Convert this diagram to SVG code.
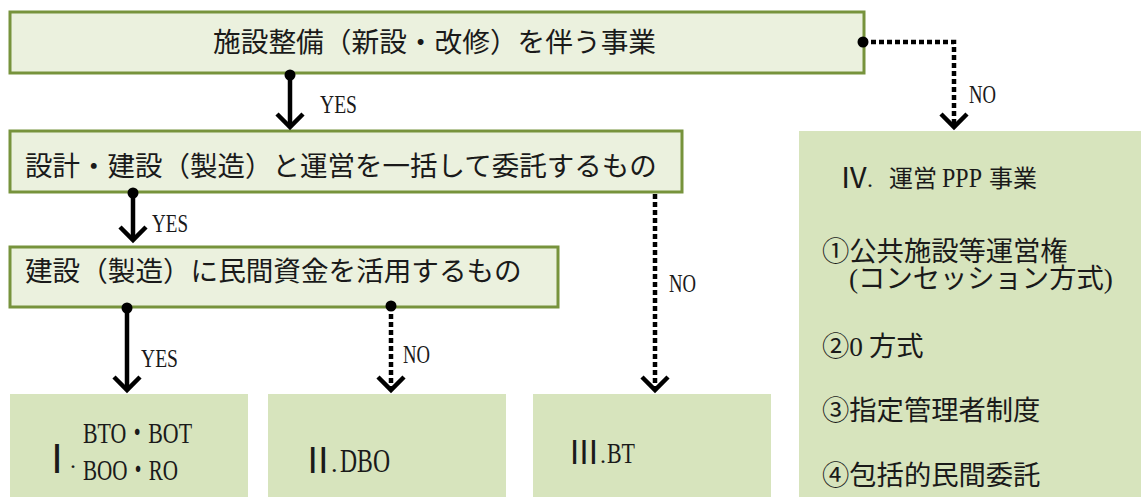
<svg xmlns="http://www.w3.org/2000/svg" width="1141" height="497" viewBox="0 0 1141 497">
<style>
.q{fill:#ebf1de;stroke:#77933c;stroke-width:3}
.r{fill:#d7e4bd;stroke:none}
.t{font-family:'Liberation Serif','Noto Sans CJK JP',serif;fill:#1a1a1a}
.j{font-family:'Noto Sans CJK JP','Liberation Serif',sans-serif;fill:#1a1a1a}
.c{fill:none;stroke:#000;stroke-width:4.5}
.d{fill:none;stroke:#000;stroke-width:4.5;stroke-dasharray:5 3}
.lb{font-family:'Liberation Serif',serif;font-size:26px;fill:#1a1a1a}
</style>
<defs>
<marker id="chev" viewBox="-16 -16 20 32" markerWidth="20" markerHeight="32" refX="-2" refY="0" orient="auto" markerUnits="userSpaceOnUse">
<path d="M-13,-13 L0,0 L-13,13" fill="none" stroke="#000" stroke-width="4.5" stroke-dasharray="none"/>
</marker>
<marker id="dot" viewBox="-7 -7 14 14" markerWidth="14" markerHeight="14" refX="0" refY="0" markerUnits="userSpaceOnUse">
<circle r="5.5" fill="#000"/>
</marker>
</defs>
<g id="n1">
<rect class="q" x="10" y="12" width="854" height="61"/>
<text class="j" x="213" y="52" font-size="27.7">施設整備（新設・改修）を伴う事業</text>
</g>
<g id="n2">
<rect class="q" x="10" y="131" width="672" height="61"/>
<text class="j" x="25" y="176" font-size="27.5">設計・建設（製造）と運営を一括して委託するもの</text>
</g>
<g id="n3">
<rect class="q" x="10" y="247" width="548" height="60"/>
<text class="j" x="25" y="281" font-size="27.6">建設（製造）に民間資金を活用するもの</text>
</g>
<g id="n4">
<rect class="r" x="10" y="394" width="238" height="103"/>
<text class="j" x="37" y="473" font-size="40">Ⅰ<tspan class="t" dx="-7" dy="-5" font-size="24">.</tspan></text>
<text class="t" x="83" y="443" font-size="29" textLength="109" lengthAdjust="spacingAndGlyphs">BTO・BOT</text>
<text class="t" x="83" y="480" font-size="29" textLength="95" lengthAdjust="spacingAndGlyphs">BOO・RO</text>
</g>
<g id="n5">
<rect class="r" x="268" y="394" width="238" height="103"/>
<text class="j" x="300" y="473" font-size="36">Ⅱ<tspan class="t" dx="-5" dy="-1" font-size="26">.</tspan></text>
<text class="t" x="340" y="472" font-size="34" textLength="50" lengthAdjust="spacingAndGlyphs">DBO</text>
</g>
<g id="n6">
<rect class="r" x="533" y="394" width="238" height="103"/>
<text class="j" x="568" y="464" font-size="32">Ⅲ<tspan class="t" dy="-1" font-size="24">.</tspan></text>
<text class="t" x="607" y="463" font-size="29" textLength="28" lengthAdjust="spacingAndGlyphs">BT</text>
</g>
<g id="n7">
<rect class="r" x="799" y="131" width="342" height="366"/>
<text class="j" x="839.5" y="188" font-size="29">Ⅳ<tspan class="t" dx="-1.5" dy="-1" font-size="24">.</tspan></text>
<text class="j" x="889" y="187" font-size="24">運営</text>
<text class="t" x="942" y="187" font-size="28" textLength="40" lengthAdjust="spacingAndGlyphs">PPP</text>
<text class="j" x="989" y="187" font-size="24">事業</text>
<text class="j" x="822" y="261" font-size="27.3">①公共施設等運営権<tspan class="t" x="849" y="288">(</tspan><tspan class="j">コンセッション方式</tspan><tspan class="t">)</tspan></text>
<text class="j" x="822" y="356" font-size="27.3">②<tspan class="t">0</tspan> 方式</text>
<text class="j" x="822" y="420" font-size="27.3">③指定管理者制度</text>
<text class="j" x="822" y="485" font-size="27.3">④包括的民間委託</text>
</g>
<g id="connectors">
<path class="c" d="M290,75 L290,125" marker-start="url(#dot)" marker-end="url(#chev)"/>
<text class="lb" x="320" y="113" textLength="37" lengthAdjust="spacingAndGlyphs">YES</text>
<path class="c" d="M133,193 L133,238" marker-start="url(#dot)" marker-end="url(#chev)"/>
<text class="lb" x="152" y="232" textLength="36" lengthAdjust="spacingAndGlyphs">YES</text>
<path class="c" d="M127,308 L127,388" marker-start="url(#dot)" marker-end="url(#chev)"/>
<text class="lb" x="141" y="367" textLength="37" lengthAdjust="spacingAndGlyphs">YES</text>
<path class="d" d="M391,306 L391,388" marker-start="url(#dot)" marker-end="url(#chev)"/>
<text class="lb" x="403" y="363" font-size="23" textLength="27" lengthAdjust="spacingAndGlyphs">NO</text>
<path class="d" d="M655,194 L655,388" marker-end="url(#chev)"/>
<text class="lb" x="669" y="292" font-size="23" textLength="27" lengthAdjust="spacingAndGlyphs">NO</text>
<path class="d" d="M863,42 L954,42 L954,125" marker-start="url(#dot)" marker-end="url(#chev)"/>
<text class="lb" x="969" y="103" font-size="23" textLength="27" lengthAdjust="spacingAndGlyphs">NO</text>
</g>
</svg>
